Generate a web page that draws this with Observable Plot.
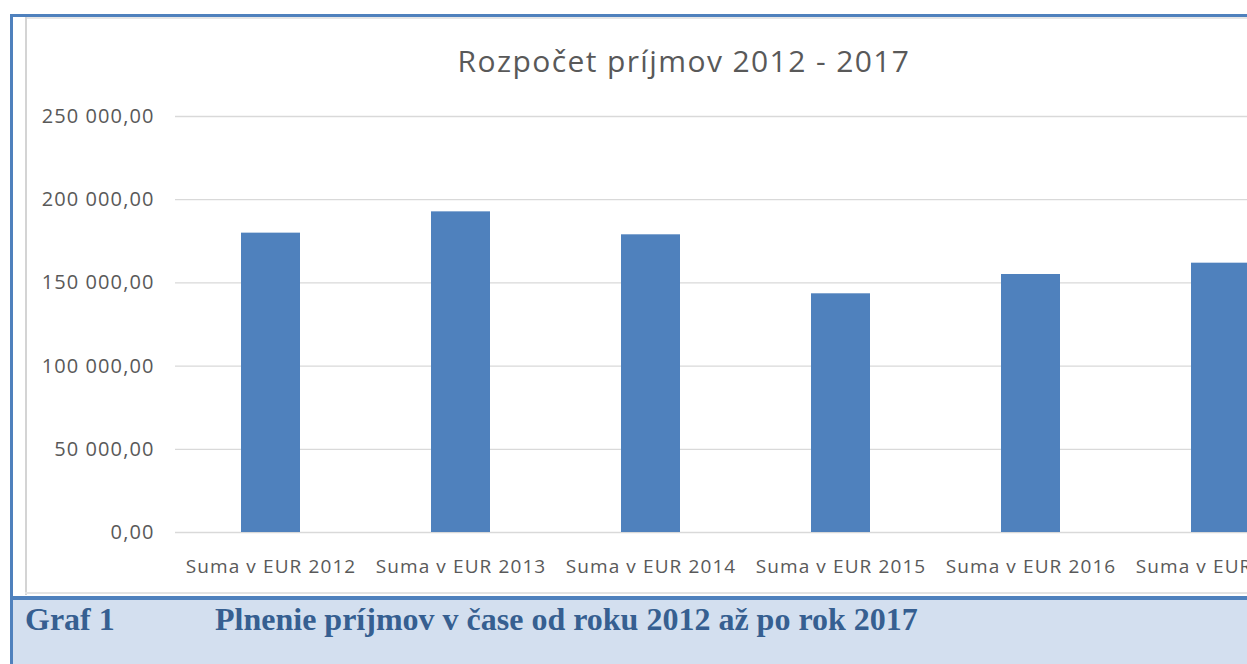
<!DOCTYPE html>
<html>
<head>
<meta charset="utf-8">
<script src="https://cdn.jsdelivr.net/npm/d3@7"></script>
<script src="https://cdn.jsdelivr.net/npm/@observablehq/plot@0.6"></script>
<style>
  html, body { margin: 0; padding: 0; background: #ffffff; }
  body { width: 1247px; height: 664px; overflow: hidden; position: relative; }
  .abs { position: absolute; }
  #frameTop { left: 10px; top: 14px; width: 1300px; height: 3px; background: #4f81bd; }
  #frameLeft { left: 10px; top: 14px; width: 3px; height: 660px; background: #4f81bd; }
  #innerTop { left: 25px; top: 17px; width: 1300px; height: 2px; background: #e6e6e6; }
  #innerLeft { left: 25px; top: 17px; width: 2px; height: 578px; background: #d4d4d4; }
  #innerBottom { left: 25px; top: 592px; width: 1300px; height: 2px; background: #e4e4e4; }
  #bandLine { left: 10px; top: 596px; width: 1300px; height: 4px; background: #4f81bd; }
  #band { left: 13px; top: 600px; width: 1300px; height: 64px; background: #d3dfef; }
  #chart { left: 0; top: 0; }
  #title { left: 384px; width: 600px; top: 46px; text-align: center; font-family: "Open Sans", sans-serif;
           font-size: 30px; line-height: 30px; color: #595959; letter-spacing: 1.4px; white-space: nowrap; }
  .cap { top: 603px; font-family: "Liberation Serif", "Times New Roman", serif; font-weight: bold;
         font-size: 32px; line-height: 32px; color: #365f91; white-space: nowrap; }
</style>
</head>
<body>
<div class="abs" id="band"></div>
<div class="abs" id="frameTop"></div>
<div class="abs" id="frameLeft"></div>
<div class="abs" id="innerTop"></div>
<div class="abs" id="innerLeft"></div>
<div class="abs" id="innerBottom"></div>
<div class="abs" id="bandLine"></div>
<div class="abs" id="chart"></div>
<div class="abs" id="title">Rozpočet príjmov 2012 - 2017</div>
<div class="abs cap" style="left:25px">Graf 1</div>
<div class="abs cap" style="left:215px">Plnenie príjmov v čase od roku 2012 až po rok 2017</div>
<script>
const categories = ["Suma v EUR 2012", "Suma v EUR 2013", "Suma v EUR 2014", "Suma v EUR 2015", "Suma v EUR 2016", "Suma v EUR 2017"];
const values = [179900, 192700, 178900, 143450, 155050, 161850];
const yTicks = [0, 50000, 100000, 150000, 200000, 250000];

const data = categories.map((c, i) => ({category: c, value: values[i]}));
const locale = d3.formatLocale({decimal: ",", thousands: "\u00a0", grouping: [3], currency: ["", " €"]});
const fmt = locale.format(",.2f");

const chart = Plot.plot({
  width: 1340,
  height: 590,
  marginTop: 116,
  marginBottom: 58,
  marginLeft: 175,
  marginRight: 25,
  style: {
    background: "transparent",
    maxWidth: "none",
    overflow: "visible",
    fontFamily: "'Open Sans', sans-serif",
    fontSize: "19px",
    color: "#595959",
    letterSpacing: "1.1px"
  },
  x: {domain: categories, paddingInner: 0.69, paddingOuter: 0.345, label: null},
  y: {domain: [0, 250000], label: null},
  marks: [
    Plot.gridY(yTicks, {stroke: "#d9d9d9", strokeOpacity: 1, strokeWidth: 1.3}),
    Plot.barY(data, {x: "category", y: "value", fill: "#4f81bd"}),
    Plot.axisY(yTicks, {tickSize: 0, tickPadding: 21, tickFormat: fmt, label: null, fontSize: 20}),
    Plot.axisX({tickSize: 0, tickPadding: 27, label: null})
  ]
});
document.getElementById("chart").appendChild(chart);
</script>
</body>
</html>
